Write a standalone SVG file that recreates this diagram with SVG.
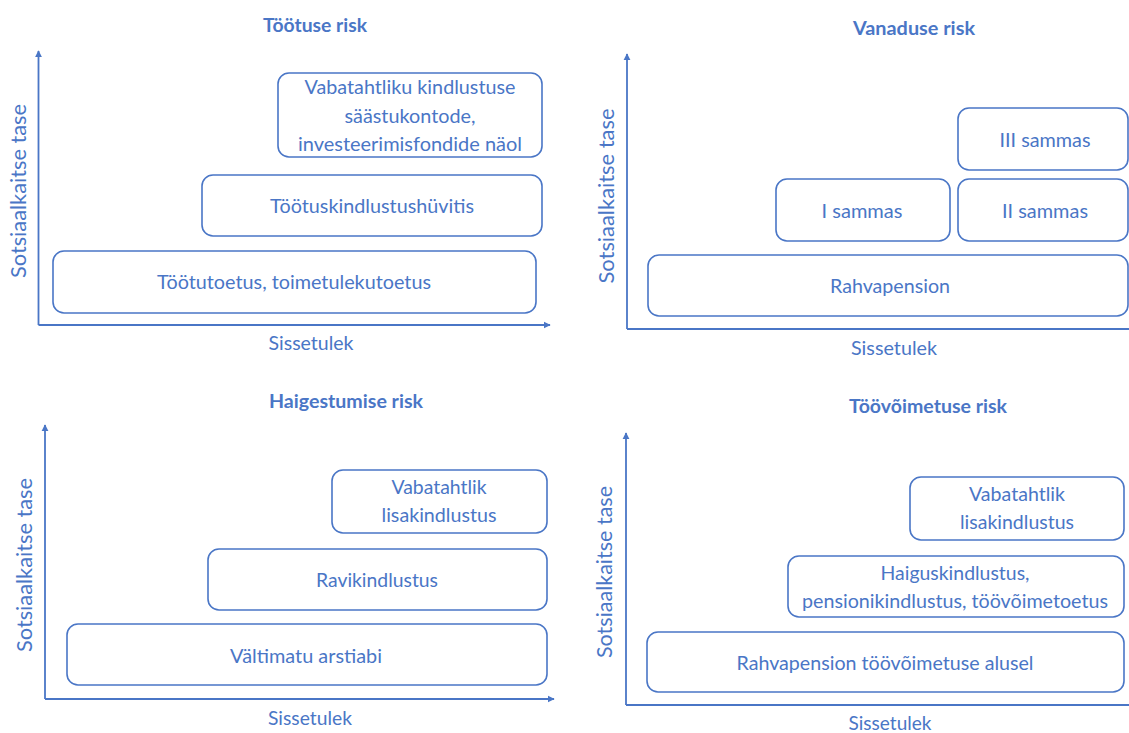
<svg xmlns="http://www.w3.org/2000/svg" width="1129" height="733" viewBox="0 0 1129 733">
<style>
.bg{fill:#fff}
.box{fill:#fff;stroke:#4a76c6;stroke-width:1.6}
.ax{stroke:#4a76c6;stroke-width:1.8;fill:none}
text{font-family:Lato,"Open Sans","Liberation Sans",sans-serif;fill:#4a76c6;text-anchor:middle}
.t{font-size:20px}
.y{font-size:21.5px}
.h{font-size:19px;font-weight:bold}
</style>
<defs>
<marker id="arr" viewBox="0 0 10 10" refX="9" refY="5" markerWidth="4" markerHeight="4" orient="auto" markerUnits="strokeWidth">
<path d="M0,0 L10,5 L0,10 z" fill="#4a76c6"/>
</marker>
</defs>
<rect class="bg" x="0" y="0" width="1129" height="733"/>

<g id="connectors">
<path class="ax" d="M38.5,325 V51" marker-end="url(#arr)"/>
<path class="ax" d="M38.5,325 H550" marker-end="url(#arr)"/>
<path class="ax" d="M627,329 V54" marker-end="url(#arr)"/>
<path class="ax" d="M627,329 H1129"/>
<path class="ax" d="M45,699 V425" marker-end="url(#arr)"/>
<path class="ax" d="M45,699 H554" marker-end="url(#arr)"/>
<path class="ax" d="M626,705 V433" marker-end="url(#arr)"/>
<path class="ax" d="M626,705 H1129"/>
</g>

<g id="panel1">
<text class="h" x="315" y="32" textLength="104" lengthAdjust="spacingAndGlyphs">Töötuse risk</text>
<text class="y" transform="translate(25.5,191) rotate(-90)" textLength="174" lengthAdjust="spacingAndGlyphs">Sotsiaalkaitse tase</text>
<text class="t" x="311" y="350" textLength="85" lengthAdjust="spacingAndGlyphs">Sissetulek</text>
<g id="p1-vabatahtliku">
<rect class="box" x="278" y="73" width="264" height="84" rx="11"/>
<text class="t" x="410" y="94" textLength="211" lengthAdjust="spacingAndGlyphs">Vabatahtliku kindlustuse</text>
<text class="t" x="410" y="123" textLength="131" lengthAdjust="spacingAndGlyphs">säästukontode,</text>
<text class="t" x="410" y="151" textLength="224" lengthAdjust="spacingAndGlyphs">investeerimisfondide näol</text>
</g>
<g id="p1-hyvitis">
<rect class="box" x="202" y="175" width="340" height="61" rx="11"/>
<text class="t" x="372" y="213" textLength="204" lengthAdjust="spacingAndGlyphs">Töötuskindlustushüvitis</text>
</g>
<g id="p1-toetus">
<rect class="box" x="53" y="251" width="483" height="62" rx="11"/>
<text class="t" x="294" y="289" textLength="274" lengthAdjust="spacingAndGlyphs">Töötutoetus, toimetulekutoetus</text>
</g>
</g>

<g id="panel2">
<text class="h" x="914" y="35" textLength="122" lengthAdjust="spacingAndGlyphs">Vanaduse risk</text>
<text class="y" transform="translate(614,196) rotate(-90)" textLength="175" lengthAdjust="spacingAndGlyphs">Sotsiaalkaitse tase</text>
<text class="t" x="894" y="355" textLength="86" lengthAdjust="spacingAndGlyphs">Sissetulek</text>
<g id="p2-III">
<rect class="box" x="958" y="108" width="170" height="62" rx="11"/>
<text class="t" x="1045" y="147" textLength="91" lengthAdjust="spacingAndGlyphs">III sammas</text>
</g>
<g id="p2-I">
<rect class="box" x="776" y="179" width="174" height="62" rx="11"/>
<text class="t" x="862" y="218" textLength="81" lengthAdjust="spacingAndGlyphs">I sammas</text>
</g>
<g id="p2-II">
<rect class="box" x="958" y="179" width="170" height="62" rx="11"/>
<text class="t" x="1045" y="218" textLength="86" lengthAdjust="spacingAndGlyphs">II sammas</text>
</g>
<g id="p2-rahvapension">
<rect class="box" x="648" y="255" width="480" height="61" rx="11"/>
<text class="t" x="890" y="293" textLength="120" lengthAdjust="spacingAndGlyphs">Rahvapension</text>
</g>
</g>

<g id="panel3">
<text class="h" x="346" y="408" textLength="154" lengthAdjust="spacingAndGlyphs">Haigestumise risk</text>
<text class="y" transform="translate(32,565) rotate(-90)" textLength="174" lengthAdjust="spacingAndGlyphs">Sotsiaalkaitse tase</text>
<text class="t" x="310" y="725" textLength="84" lengthAdjust="spacingAndGlyphs">Sissetulek</text>
<g id="p3-vabatahtlik">
<rect class="box" x="332" y="470" width="215" height="63" rx="11"/>
<text class="t" x="439" y="494" textLength="95" lengthAdjust="spacingAndGlyphs">Vabatahtlik</text>
<text class="t" x="439" y="522" textLength="115" lengthAdjust="spacingAndGlyphs">lisakindlustus</text>
</g>
<g id="p3-ravi">
<rect class="box" x="208" y="549" width="339" height="61" rx="11"/>
<text class="t" x="377" y="587" textLength="122" lengthAdjust="spacingAndGlyphs">Ravikindlustus</text>
</g>
<g id="p3-valtimatu">
<rect class="box" x="67" y="624" width="480" height="61" rx="11"/>
<text class="t" x="306" y="663" textLength="152" lengthAdjust="spacingAndGlyphs">Vältimatu arstiabi</text>
</g>
</g>

<g id="panel4">
<text class="h" x="928" y="413" textLength="158" lengthAdjust="spacingAndGlyphs">Töövõimetuse risk</text>
<text class="y" transform="translate(612,572) rotate(-90)" textLength="172" lengthAdjust="spacingAndGlyphs">Sotsiaalkaitse tase</text>
<text class="t" x="890" y="730" textLength="83" lengthAdjust="spacingAndGlyphs">Sissetulek</text>
<g id="p4-vabatahtlik">
<rect class="box" x="910" y="477" width="214" height="63" rx="11"/>
<text class="t" x="1017" y="501" textLength="96" lengthAdjust="spacingAndGlyphs">Vabatahtlik</text>
<text class="t" x="1017" y="529" textLength="114" lengthAdjust="spacingAndGlyphs">lisakindlustus</text>
</g>
<g id="p4-haigus">
<rect class="box" x="788" y="556" width="336" height="61" rx="11"/>
<text class="t" x="955" y="580" textLength="149" lengthAdjust="spacingAndGlyphs">Haiguskindlustus,</text>
<text class="t" x="955" y="608" textLength="306" lengthAdjust="spacingAndGlyphs">pensionikindlustus, töövõimetoetus</text>
</g>
<g id="p4-rahvapension">
<rect class="box" x="647" y="632" width="477" height="60" rx="11"/>
<text class="t" x="885" y="670" textLength="297" lengthAdjust="spacingAndGlyphs">Rahvapension töövõimetuse alusel</text>
</g>
</g>
</svg>
